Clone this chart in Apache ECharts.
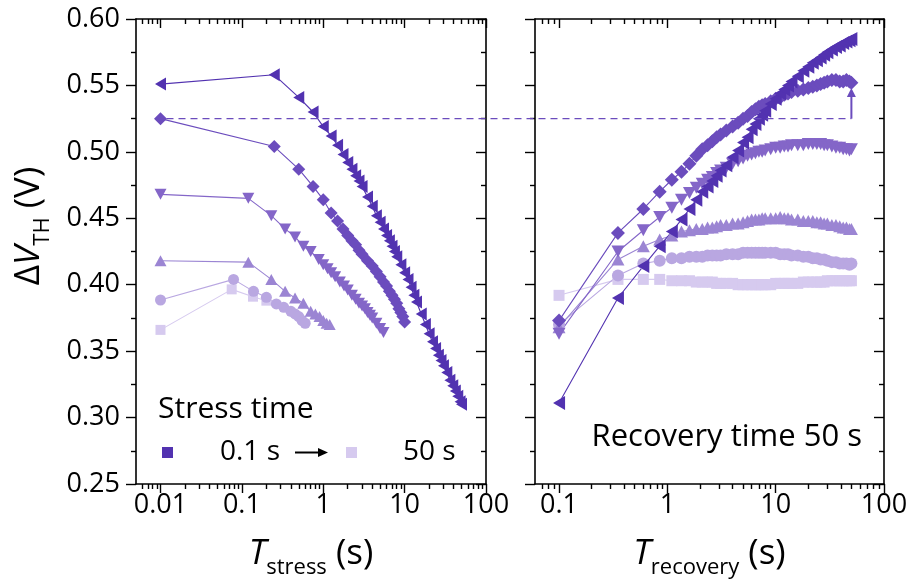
<!DOCTYPE html>
<html><head><meta charset="utf-8">
<script src="https://cdn.jsdelivr.net/npm/echarts@6/dist/echarts.min.js"></script>
<style>html,body{margin:0;padding:0;background:#fff}#c{width:912px;height:581px}</style>
</head><body><div id="c"></div>
<script>
// ---------- DATA ----------
// Left panel: dVth vs stress time
const stressX_tri  = [0.01,0.25,0.5,0.75,1,1.25,1.5,1.75,2,2.25,2.5,2.75,3,3.5,4,4.5,5,5.5,6,6.5,7,7.5,8,9,10,11,12,13,14,16,18,20,22,24,26,28,30,33,36,39,42,45,48,50];
const stressY_tri  = [0.551,0.558,0.541,0.530,0.519,0.512,0.505,0.498,0.492,0.487,0.482,0.478,0.474,0.466,0.459,0.452,0.447,0.442,0.437,0.433,0.429,0.425,0.421,0.415,0.409,0.404,0.398,0.392,0.387,0.378,0.370,0.363,0.357,0.352,0.347,0.343,0.339,0.334,0.328,0.324,0.320,0.316,0.312,0.310];
const stressX_dia  = [0.01,0.25,0.5,0.75,1,1.25,1.5,1.75,2,2.25,2.5,2.75,3,3.5,4,4.5,5,5.5,6,6.5,7,7.5,8,8.5,9,9.5,10];
const stressY_dia  = [0.525,0.504,0.487,0.474,0.464,0.454,0.448,0.442,0.437,0.433,0.430,0.426,0.423,0.418,0.414,0.410,0.406,0.402,0.399,0.395,0.392,0.389,0.386,0.382,0.379,0.376,0.372];
const stressX_down = [0.01,0.12,0.23,0.34,0.45,0.57,0.7,0.88,1.0,1.13,1.25,1.4,1.6,1.8,2.0,2.25,2.5,2.75,3,3.25,3.5,3.75,4,4.5,5,5.5];
const stressY_down = [0.468,0.465,0.452,0.442,0.436,0.429,0.425,0.419,0.415,0.412,0.409,0.406,0.402,0.399,0.396,0.392,0.389,0.386,0.384,0.382,0.379,0.377,0.375,0.371,0.367,0.364];
const stressX_up   = [0.01,0.12,0.23,0.34,0.45,0.57,0.7,0.8,0.9,1.0,1.1,1.2];
const stressY_up   = [0.418,0.417,0.404,0.395,0.390,0.386,0.380,0.378,0.376,0.373,0.371,0.370];
const stressX_circ = [0.01,0.079,0.139,0.2,0.265,0.327,0.4,0.45,0.5,0.55,0.6];
const stressY_circ = [0.3885,0.404,0.395,0.3905,0.3855,0.383,0.380,0.378,0.376,0.373,0.371];
const stressX_sq   = [0.01,0.075,0.137,0.2];
const stressY_sq   = [0.366,0.3965,0.391,0.388];

// Right panel: dVth vs recovery time (shared sampling times)
const recoveryTimes = [0.1,0.35,0.6,0.85,1.1,1.35,1.6,1.85,2.1,2.35,2.6,2.85,3.1,3.5,4,4.5,5,5.5,6,6.5,7,7.5,8,9,10,11,12,13,14,16,18,20,22,24,26,28,30,33,36,39,42,45,48,50];
const recY_tri  = [0.311,0.390,0.414,0.429,0.440,0.449,0.457,0.464,0.470,0.474,0.478,0.482,0.486,0.490,0.496,0.501,0.507,0.511,0.517,0.521,0.525,0.528,0.531,0.536,0.540,0.544,0.547,0.550,0.553,0.557,0.561,0.564,0.567,0.569,0.571,0.573,0.575,0.577,0.579,0.580,0.582,0.583,0.584,0.585];
const recY_dia  = [0.373,0.439,0.457,0.470,0.479,0.485,0.491,0.497,0.502,0.505,0.508,0.511,0.513,0.516,0.519,0.522,0.525,0.527,0.530,0.532,0.534,0.535,0.536,0.538,0.540,0.541,0.543,0.544,0.545,0.546,0.547,0.548,0.549,0.550,0.551,0.552,0.553,0.554,0.554,0.553,0.553,0.554,0.553,0.552];
const recY_down = [0.363,0.425,0.441,0.451,0.458,0.464,0.469,0.473,0.476,0.479,0.481,0.484,0.486,0.488,0.491,0.493,0.495,0.497,0.498,0.499,0.500,0.500,0.501,0.502,0.503,0.503,0.504,0.504,0.505,0.505,0.505,0.506,0.506,0.506,0.506,0.505,0.505,0.504,0.503,0.503,0.502,0.502,0.501,0.502];
const recY_up   = [0.368,0.419,0.429,0.434,0.437,0.440,0.441,0.442,0.442,0.443,0.443,0.444,0.445,0.445,0.446,0.446,0.447,0.448,0.449,0.449,0.449,0.450,0.450,0.450,0.450,0.451,0.450,0.450,0.449,0.449,0.448,0.448,0.448,0.447,0.447,0.446,0.446,0.445,0.445,0.444,0.443,0.443,0.442,0.442];
const recY_circ = [0.370,0.407,0.416,0.418,0.420,0.420,0.421,0.421,0.421,0.422,0.422,0.422,0.422,0.423,0.423,0.423,0.424,0.424,0.424,0.424,0.424,0.424,0.424,0.424,0.424,0.423,0.423,0.423,0.422,0.422,0.421,0.421,0.420,0.420,0.419,0.419,0.418,0.417,0.417,0.416,0.416,0.416,0.415,0.416];
const recY_sq   = [0.392,0.404,0.404,0.404,0.403,0.403,0.403,0.402,0.402,0.402,0.402,0.401,0.401,0.401,0.401,0.400,0.400,0.400,0.400,0.400,0.400,0.400,0.400,0.400,0.401,0.401,0.401,0.401,0.401,0.401,0.402,0.402,0.402,0.402,0.402,0.402,0.403,0.403,0.403,0.403,0.403,0.403,0.403,0.403];

// Ticks
const xTicksStress   = [0.01, 0.1, 1, 10, 100];
const xLabelsStress  = ['0.01', '0.1', '1', '10', '100'];
const xTicksRecovery = [0.1, 1, 10, 100];
const xLabelsRecovery= ['0.1', '1', '10', '100'];
const yMin = 0.25, yMax = 0.60, yStep = 0.05;
const refLevel = 0.525;      // dashed reference line
const arrowTop = 0.548;      // arrow tip in right panel
const arrowTime = 50;

// ---------- CHART ----------
const FONT = 'Open Sans';
const C = {tri:'#5232b0', dia:'#6b4cbd', down:'#8466c8', up:'#9b85d3', circ:'#b9a7e1', sq:'#d6caef'};
const chart = echarts.init(document.getElementById('c'));
const grids = [{left:136, top:19, width:350, height:465},{left:535, top:19, width:349, height:465}];
const xRange = [[0.005,100],[0.06,100]];
const majors = [xTicksStress, xTicksRecovery];
const majorLabels = [xLabelsStress, xLabelsRecovery];

function minorLogs(min, max){
  const out = [];
  for (let d=-4; d<=2; d++) for (let m=2; m<=9; m++){
    const v = m*Math.pow(10,d);
    if (v > min*1.0001 && v < max*0.9999) out.push(Math.log10(v));
  }
  return out;
}
const axLine = {show:true, onZero:false, lineStyle:{color:'#000', width:1.6}};
const tickLS = {color:'#000', width:1.4};
const xAxes = [], yAxes = [];
for (let g=0; g<2; g++){
  const [mn,mx] = xRange[g];
  const lmn = Math.log10(mn), lmx = Math.log10(mx);
  const majLog = majors[g].map(v=>Math.log10(v));
  const minLog = minorLogs(mn,mx);
  xAxes.push({type:'log', gridIndex:g, min:mn, max:mx, show:false});
  const base = {type:'value', gridIndex:g, min:lmn, max:lmx, splitLine:{show:false}};
  xAxes.push(Object.assign({}, base, {position:'bottom', axisLine:axLine,
    axisTick:{show:true, inside:false, length:9, customValues:majLog, lineStyle:tickLS},
    axisLabel:{show:true, customValues:majLog, margin:8, fontSize:27, fontFamily:FONT, color:'#000',
      formatter:(v)=>{const i = majLog.findIndex(t=>Math.abs(t-v)<1e-6); return i>=0 ? majorLabels[g][i] : '';}}}));
  xAxes.push(Object.assign({}, base, {position:'bottom', axisLine:{show:false, onZero:false},
    axisTick:{show:true, inside:false, length:5, customValues:minLog, lineStyle:tickLS}, axisLabel:{show:false}}));
  xAxes.push(Object.assign({}, base, {position:'top', axisLine:axLine,
    axisTick:{show:true, inside:true, length:9, customValues:majLog, lineStyle:tickLS}, axisLabel:{show:false}}));
  xAxes.push(Object.assign({}, base, {position:'top', axisLine:{show:false, onZero:false},
    axisTick:{show:true, inside:true, length:5, customValues:minLog, lineStyle:tickLS}, axisLabel:{show:false}}));

  const yb = {type:'value', gridIndex:g, min:yMin, max:yMax, interval:yStep, splitLine:{show:false}, axisLine:axLine,
    minorTick:{show:true, splitNumber:2, length:5, lineStyle:tickLS}, minorSplitLine:{show:false}};
  yAxes.push(Object.assign({}, yb, {position:'left', axisTick:{show:true, inside:false, length:10, lineStyle:tickLS},
    axisLabel: g===0 ? {show:true, margin:16, fontSize:27, fontFamily:FONT, color:'#000', formatter:v=>v.toFixed(2)} : {show:false}}));
  yAxes.push(Object.assign({}, yb, {position:'right', axisTick:{show:true, inside:true, length:10, lineStyle:tickLS}, axisLabel:{show:false}}));
}

function mk(xs, ys, g, symbol, size, rot, color){
  return {type:'line', xAxisIndex:g*5, yAxisIndex:g*2, data:xs.map((x,i)=>[x,ys[i]]),
    symbol, symbolSize:size, symbolRotate:rot, showSymbol:true, showAllSymbol:true,
    lineStyle:{color, width:1.1}, itemStyle:{color, opacity:1}, emphasis:{disabled:true}, silent:true, animation:false};
}
const series = [
  mk(stressX_sq,   stressY_sq,   0, 'rect',     10, 0,   C.sq),
  mk(stressX_circ, stressY_circ, 0, 'circle',   11, 0,   C.circ),
  mk(stressX_up,   stressY_up,   0, 'triangle', [12,11], 0, C.up),
  mk(stressX_down, stressY_down, 0, 'triangle', [12,11], 180, C.down),
  mk(stressX_dia,  stressY_dia,  0, 'diamond',  13, 0,   C.dia),
  mk(stressX_tri,  stressY_tri,  0, 'triangle', [13,11], 90, C.tri),
  mk(recoveryTimes, recY_sq,   1, 'rect',     11, 0,   C.sq),
  mk(recoveryTimes, recY_circ, 1, 'circle',   12, 0,   C.circ),
  mk(recoveryTimes, recY_up,   1, 'triangle', [13,12], 0, C.up),
  mk(recoveryTimes, recY_down, 1, 'triangle', [13,12], 180, C.down),
  mk(recoveryTimes, recY_dia,  1, 'diamond',  14, 0,   C.dia),
  mk(recoveryTimes, recY_tri,  1, 'triangle', [14,12], 90, C.tri)
];

chart.setOption({animation:false, backgroundColor:'#fff', grid:grids, xAxis:xAxes, yAxis:yAxes, series});

// ---------- ANNOTATIONS ----------
const p0 = chart.convertToPixel({xAxisIndex:0, yAxisIndex:0}, [stressX_dia[0], refLevel]);
const p1 = chart.convertToPixel({xAxisIndex:5, yAxisIndex:2}, [arrowTime, refLevel]);
const p2 = chart.convertToPixel({xAxisIndex:5, yAxisIndex:2}, [arrowTime, arrowTop]);

const mctx = document.createElement('canvas').getContext('2d');
function measure(txt, size, italic){ mctx.font = (italic?'italic ':'') + size + 'px "' + FONT + '"'; return mctx.measureText(txt).width; }
// parts: [text, size, italic, drop]; builds a title with subscript along a baseline
function titleParts(parts, cx, cy, vertical){
  const widths = parts.map(p=>measure(p[0], p[1], p[2]));
  const W = widths.reduce((a,b)=>a+b,0);
  let s = -W/2; const els = [];
  parts.forEach((p,i)=>{
    const el = {type:'text', z:100, style:{text:p[0], x:0, y:0, fontSize:p[1], fontFamily:FONT, fontStyle:p[2]?'italic':'normal', fill:'#000', align:'left', verticalAlign:'middle'}};
    if (!vertical){ el.x = cx + s; el.y = cy + p[3]; }
    else { el.x = cx + p[3]; el.y = cy - s; el.rotation = Math.PI/2; }
    els.push(el); s += widths[i];
  });
  return els;
}
const MAIN = 35, SUB = 22, DROP = 12.8;
const graphic = [
  {type:'line', z:100, shape:{x1:p0[0]+6, y1:p0[1], x2:p1[0], y2:p1[1]}, style:{stroke:C.dia, lineWidth:1.3, lineDash:[7,5]}},
  {type:'line', z:100, shape:{x1:p1[0], y1:p1[1], x2:p2[0], y2:p2[1]+7}, style:{stroke:C.dia, lineWidth:2}},
  {type:'polygon', z:100, shape:{points:[[p2[0],p2[1]],[p2[0]-4.5,p2[1]+9],[p2[0]+4.5,p2[1]+9]]}, style:{fill:C.dia}},
  ...titleParts([['T',MAIN,true,0],['stress',SUB,false,DROP],[' (s)',MAIN,false,0]], 311, 554.5, false),
  ...titleParts([['T',MAIN,true,0],['recovery',SUB,false,DROP],[' (s)',MAIN,false,0]], 709.5, 554.5, false),
  ...titleParts([['Δ',MAIN,false,0],['V',MAIN,true,0],['TH',SUB,false,DROP],[' (V)',MAIN,false,0]], 29.5, 226, true),
  {type:'text', z:100, style:{text:'Stress time', x:158, y:409, fontSize:30, fontFamily:FONT, fill:'#000', align:'left', verticalAlign:'middle'}},
  {type:'rect', z:100, shape:{x:162, y:447, width:11, height:11}, style:{fill:C.tri}},
  {type:'text', z:100, style:{text:'0.1 s', x:220, y:452.5, fontSize:28, fontFamily:FONT, fill:'#000', align:'left', verticalAlign:'middle'}},
  {type:'line', z:100, shape:{x1:295, y1:452.5, x2:320, y2:452.5}, style:{stroke:'#000', lineWidth:2}},
  {type:'polygon', z:100, shape:{points:[[328,452.5],[318,448],[318,457]]}, style:{fill:'#000'}},
  {type:'rect', z:100, shape:{x:346, y:447, width:11, height:11}, style:{fill:C.sq}},
  {type:'text', z:100, style:{text:'50 s', x:403, y:452.5, fontSize:28, fontFamily:FONT, fill:'#000', align:'left', verticalAlign:'middle'}},
  {type:'text', z:100, style:{text:'Recovery time 50 s', x:862, y:437.5, fontSize:31, fontFamily:FONT, fill:'#000', align:'right', verticalAlign:'middle'}}
];
chart.setOption({graphic});
</script>
</body></html>
